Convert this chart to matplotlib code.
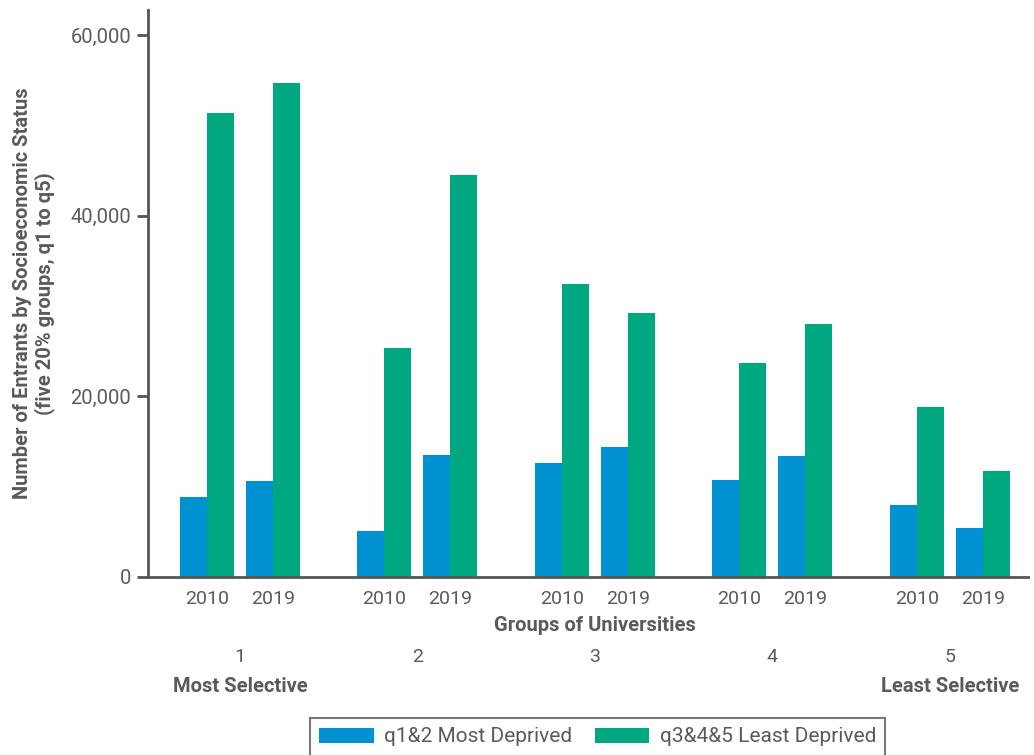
import matplotlib
matplotlib.use("Agg")
import matplotlib.pyplot as plt
from matplotlib.patches import Patch
from matplotlib.ticker import FuncFormatter
import numpy as np

plt.rcParams['font.family'] = ['Roboto', 'DejaVu Sans']

groups = ["1", "2", "3", "4", "5"]
years = ["2010", "2019"]
# values per group: [2010, 2019]
q12_most_deprived = [[8900, 10600], [5100, 13500], [12600, 14400], [10700, 13400], [8000, 5400]]
q345_least_deprived = [[51400, 54700], [25400, 44500], [32500, 29200], [23700, 28000], [18800, 11700]]
series_names = ["q1&2 Most Deprived", "q3&4&5 Least Deprived"]
y_ticks = [0, 20000, 40000, 60000]

BLUE = '#0091D3'
GREEN = '#00A881'
TXT = '#5a5a5a'
AX = '#555555'

fig = plt.figure(figsize=(10.34, 7.55), dpi=100)
ax = fig.add_axes([148/1034, 178/755, 880/1034, 567/755])

year_off = [-0.186, 0.186]
w = 0.152
xticks, xlabels = [], []
for gi in range(len(groups)):
    for yi, yr in enumerate(years):
        c = gi + year_off[yi]
        ax.bar(c - w/2, q12_most_deprived[gi][yi], width=w, color=BLUE, linewidth=0)
        ax.bar(c + w/2, q345_least_deprived[gi][yi], width=w, color=GREEN, linewidth=0)
        xticks.append(c)
        xlabels.append(yr)

ax.set_xlim(-0.518, 4.44)
ax.set_ylim(0, 62800)
ax.set_xticks(xticks)
ax.set_xticklabels(xlabels)
ax.set_yticks(y_ticks)
ax.yaxis.set_major_formatter(FuncFormatter(lambda v, p: f"{int(v):,}"))
ax.tick_params(axis='x', length=0, pad=9, labelsize=14, labelcolor=TXT)
ax.tick_params(axis='y', length=8, width=2, color=AX, pad=4, labelsize=14.5, labelcolor=TXT)
for s in ['top', 'right']:
    ax.spines[s].set_visible(False)
for s in ['left', 'bottom']:
    ax.spines[s].set_color(AX)
    ax.spines[s].set_linewidth(2)

ax.set_ylabel("Number of Entrants by Socioeconomic Status\n(five 20% groups, q1 to q5)",
              fontsize=14.5, fontweight='bold', color=TXT, labelpad=11, linespacing=1.15)

tr = ax.get_xaxis_transform()
ax.text(2.0, -0.0864, "Groups of Universities", transform=tr, ha='center', va='center',
        fontsize=14.5, fontweight='bold', color=TXT)
for gi, g in enumerate(groups):
    ax.text(gi, -0.141, g, transform=tr, ha='center', va='center', fontsize=14, color=TXT)
ax.text(0, -0.194, "Most Selective", transform=tr, ha='center', va='center',
        fontsize=14.5, fontweight='bold', color=TXT)
ax.text(4, -0.194, "Least Selective", transform=tr, ha='center', va='center',
        fontsize=14.5, fontweight='bold', color=TXT)

handles = [Patch(facecolor=BLUE, label=series_names[0]), Patch(facecolor=GREEN, label=series_names[1])]
leg = fig.legend(handles=handles, loc='upper left', bbox_to_anchor=(310/1034, 1 - 718/755),
                 ncol=2, frameon=True, fancybox=False, fontsize=15, handlelength=2.6,
                 handleheight=0.72, columnspacing=1.1, handletextpad=0.5, borderpad=0.45,
                 borderaxespad=0)
leg.get_frame().set_edgecolor(AX)
leg.get_frame().set_linewidth(1.5)
for t in leg.get_texts():
    t.set_color(TXT)

fig.savefig("out.png", dpi=100)
